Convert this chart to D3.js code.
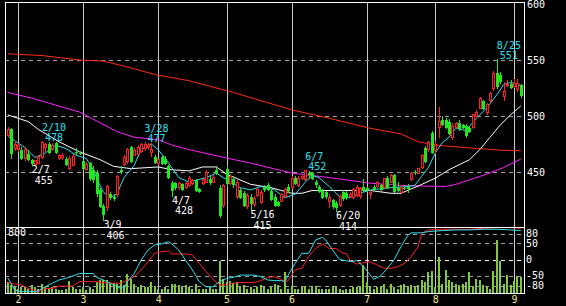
<!DOCTYPE html>
<html>
<head>
<meta charset="utf-8">
<script src="https://cdn.jsdelivr.net/npm/d3@7"></script>
<style>
  body { margin: 0; background: #000; }
  text { font-family: "DejaVu Sans Mono", monospace; font-size: 10px; }
</style>
</head>
<body>
<div id="chart"></div>
<script>
// trading days shown, month by month
const months = [
  [1, [27, 28, 31]],
  [2, [1, 2, 3, 4, 7, 8, 9, 10, 14, 15, 16, 17, 18, 21, 22, 23, 24, 25, 28]],
  [3, [1, 2, 3, 4, 7, 8, 9, 10, 11, 14, 15, 16, 17, 18, 22, 23, 24, 25, 28, 29, 30, 31]],
  [4, [1, 4, 5, 6, 7, 8, 11, 12, 13, 14, 15, 18, 19, 20, 21, 22, 25, 26, 27, 28]],
  [5, [2, 6, 9, 10, 11, 12, 13, 16, 17, 18, 19, 20, 23, 24, 25, 26, 27, 30, 31]],
  [6, [1, 2, 3, 6, 7, 8, 9, 10, 13, 14, 15, 16, 17, 20, 21, 22, 23, 24, 27, 28, 29, 30]],
  [7, [1, 4, 5, 6, 7, 8, 11, 12, 13, 14, 15, 19, 20, 21, 22, 25, 26, 27, 28, 29]],
  [8, [1, 2, 3, 4, 5, 8, 9, 10, 11, 12, 15, 16, 17, 18, 19, 22, 23, 24, 25, 26, 29, 30, 31]],
  [9, [1, 2, 5]]
];
const dates = months.flatMap(([m, days]) => days.map(d => `${m}/${d}`));

// open, high, low, close
const ohlc = [
  [483,490,481,488],[488,489,462,466],[471,478,469,475],[470,476,468,474],[470,472,461,462],
  [462,472,460,470],[466,470,460,461],[461,462,455,457],[457,461,456,460],[458,465,457,464],
  [463,478,462,476],[472,476,468,475],[475,477,466,467],[470,476,469,474],[476,477,466,467],
  [462,466,461,465],[463,467,461,465],[462,463,455,456],[453,464,452,462],[456,466,455,464],
  [468,471,465,467],[467,469,465,466],[460,461,452,453],[452,459,451,457],[458,459,442,444],
  [452,455,440,443],[449,452,428,430],[434,436,418,419],[420,421,406,412],[418,438,415,437],
  [430,432,425,427],[428,430,424,426],[430,447,428,446],[452,455,448,450],[457,465,455,463],
  [459,471,457,470],[472,473,458,459],[465,471,464,469],[466,474,465,472],[468,476,467,475],
  [471,477,469,475],[472,476,470,474],[467,476,463,470],[463,465,457,458],[458,462,456,461],
  [463,465,456,457],[462,464,456,457],[455,456,444,445],[440,442,428,433],[440,441,434,436],
  [436,441,434,440],[439,440,433,434],[436,441,435,440],[438,446,437,444],[440,444,438,442],
  [443,444,432,433],[435,436,431,432],[440,444,438,443],[441,452,440,450],[444,446,438,440],
  [441,447,440,445],[452,455,447,448],[436,438,409,411],[420,439,418,438],[453,455,437,439],
  [440,448,438,446],[444,446,436,438],[428,443,426,441],[434,436,426,427],[431,433,419,420],
  [419,431,417,429],[428,430,415,421],[421,429,419,426],[429,436,428,434],[423,434,421,432],
  [436,438,432,434],[438,440,433,434],[433,435,424,425],[428,430,419,420],[423,424,419,420],
  [424,431,423,430],[428,436,427,434],[437,439,431,433],[436,446,435,444],[445,446,438,439],
  [438,446,437,444],[444,448,443,446],[443,452,442,451],[449,451,444,447],[449,450,443,444],
  [441,443,436,438],[437,438,431,432],[433,435,426,427],[432,433,426,428],[424,430,418,427],
  [425,426,417,419],[422,424,414,418],[420,430,419,428],[432,434,424,426],[431,433,425,427],
  [428,432,427,430],[427,436,426,434],[429,438,428,436],[428,437,426,435],[437,444,432,433],
  [436,437,432,434],[430,434,426,432],[437,438,433,434],[437,442,436,441],[438,439,433,434],
  [436,445,435,444],[445,446,435,436],[441,448,440,447],[447,448,431,432],[436,441,432,433],
  [432,438,431,436],[436,438,434,435],[437,439,431,435],[443,450,442,449],[450,452,447,449],
  [449,454,448,453],[454,466,453,465],[471,473,458,459],[470,478,468,476],[485,487,466,467],
  [469,478,466,475],[490,508,480,495],[496,500,491,492],[496,498,488,489],[495,497,483,484],
  [481,494,479,491],[490,495,488,493],[494,496,487,488],[492,493,488,489],[491,493,480,482],
  [489,491,485,486],[490,502,488,501],[500,505,499,503],[507,517,506,516],[513,514,505,506],
  [503,512,501,510],[514,521,512,520],[525,540,522,538],[538,551,524,526],[537,539,529,530],
  [517,530,513,522],[527,532,526,528],[529,532,524,525],[526,533,525,529],[524,533,521,529],
  [528,529,516,518]
];

const volume = [
  133,93,73,53,73,73,53,93,73,53, 113,73,53,73,53,32,32,53,145,73,
  53,53,73,32,73,53,133,162,154,154, 121,121,113,162,101,226,174,113,73,93,
  73,73,133,81,53,53,73,53,113,113, 93,73,93,73,53,113,53,53,53,73,
  53,53,388,174,133,145,121,133,81,93, 53,73,53,73,93,73,53,73,113,93,
  53,255,53,85,53,53,73,81,53,81, 81,53,53,53,53,81,73,53,40,53,
  53,73,73,81,343,133,81,53,73,81, 113,53,105,73,53,93,113,73,101,73,
  93,162,133,255,263,73,436,113,283,162, 133,105,93,105,133,255,81,174,162,93,
  73,53,263,638,388,113,214,93,141,202, 194
];

// moving averages: [day index, price]
const maShort = [[0,482],[2,478],[5,472],[8,463],[11,467],[14,474],[17,471],[20,465],[23,462],[25,452],
  [27,438],[28,432],[30,427],[32,431],[34,445],[37,456],[39,470],[42,475],[44,470],[47,458],
  [50,445],[53,441],[58,445],[61,449],[63,445],[68,436],[71,434],[74,437],[78,434],[81,427],
  [84,430],[87,441],[89,447],[91,445],[94,437],[97,428],[100,427],[103,431],[106,434],[112,436],
  [117,437],[119,438],[121,446],[123,454],[125,467],[127,476],[129,481],[131,489],[134,487],[137,498],
  [140,507],[143,519],[145,528],[147,530],[149,528.5],[150,527]];
const ma25 = [[0,501],[6,495],[9,488],[15,477],[21,468],[27,461],[31,455],[36,453],[44,454.5],[48,452],
  [53,451],[57,454.5],[61,454.5],[64,448],[71,439],[77,436],[83,431],[86,431],[89,433.5],[106,433.5],
  [112,431],[115,431],[120,437.5],[125,444.5],[129,452],[135,461],[138,470],[141,481],[144,492],[147,501],[150,509]];
const ma75 = [[0,521],[7,516],[21,503.5],[27,494],[32,486],[37,481],[44,479],[48,474],[53,470],[64,462.5],
  [71,458],[83,449],[94,445],[106,440],[115,438],[121,437.5],[128,437],[131,439],[135,443],[140,448],[145,454],[150,461.5]];
const ma200 = [[0,555.5],[10,554],[21,550],[28,549],[36,543],[43,537],[53,531.5],[66,521],[83,505.5],[94,498],
  [106,489],[115,484],[120,477],[125,474],[135,471.5],[144,469.5],[150,469]];

// RCI lines of the lower panel: [day index, value]
const rciShort = [[0,-57],[1,-73],[2,-94],[4,-99],[8,-99],[9,-96],[11,-84],[13,-73],[15,-63],[17,-58],
  [19,-51],[21,-43],[25,-43],[26,-55],[28,-63],[30,-73],[32,-84],[33,-89],[34,-86],[35,-68],
  [37,-43],[39,-2],[41,29],[43,45],[45,48],[47,55],[48,48],[50,29],[52,-2],[54,-32],
  [56,-68],[58,-84],[60,-84],[62,-68],[64,-58],[66,-55],[68,-48],[72,-48],[74,-53],[76,-63],
  [78,-65],[80,-65],[81,-68],[82,-48],[84,-12],[86,19],[88,19],[90,60],[92,68],[93,60],
  [95,29],[97,0],[99,-4],[101,-7],[102,-2],[104,-22],[107,-61],[109,-51],[111,-27],[113,0],
  [115,40],[117,75],[118,82],[121,82],[123,86],[127,89],[131,91],[135,91],[139,93],[143,93],
  [147,91],[150,89]];
const rciLong = [[0,-71],[2,-75],[4,-78],[6,-89],[8,-96],[9,-99],[11,-89],[13,-89],[15,-82],[19,-82],
  [21,-68],[25,-68],[27,-70],[31,-73],[33,-73],[35,-63],[37,-53],[39,-32],[41,-7],[43,19],
  [45,24],[47,26],[48,17],[52,17],[54,14],[56,-12],[58,-37],[60,-61],[62,-78],[64,-78],
  [66,-73],[68,-71],[72,-71],[74,-65],[76,-55],[78,-53],[80,-61],[81,-68],[82,-65],[84,-32],
  [86,-27],[88,9],[90,34],[92,48],[94,34],[96,34],[98,19],[99,19],[100,-2],[102,-14],
  [104,-10],[106,-7],[108,-17],[110,-27],[112,-27],[114,-22],[116,-12],[118,9],[120,40],[121,80],
  [123,91],[127,93],[135,93],[139,96],[143,98],[147,98],[150,96]];

// highs and lows that carry a label
const marks = [
  { date: "2/10", value: 478, kind: "high" },
  { date: "2/7",  value: 455, kind: "low" },
  { date: "3/9",  value: 406, kind: "low" },
  { date: "3/28", value: 477, kind: "high" },
  { date: "4/7",  value: 428, kind: "low" },
  { date: "5/16", value: 415, kind: "low" },
  { date: "6/7",  value: 452, kind: "high" },
  { date: "6/20", value: 414, kind: "low" },
  { date: "8/25", value: 551, kind: "high" }
];

const priceTicks = [450, 500, 550, 600];
const rciTicks = [80, 50, 0, -50, -80];

const W = 566, H = 306;
const L = 5, R = 524, T = 2, MID = 227, B = 293;
const upColor = "#ff2020", downColor = "#20e820";

const svg = d3.select("#chart").append("svg")
  .attr("width", W).attr("height", H)
  .style("background", "#000");

const x = d3.scaleLinear().domain([0, dates.length - 1]).range([7.7, 520.8]);
const y = d3.scaleLinear().domain([400, 600]).range([228, 4]);
const yr = d3.scaleLinear().domain([-100, 100]).range([292, 227]);
const yv = d3.scaleLinear().domain([0, 800]).range([B, MID]);
const px = i => Math.round(x(i)) + 0.5;

svg.append("clipPath").attr("id", "clipMain")
  .append("rect").attr("x", L).attr("y", T).attr("width", R - L).attr("height", MID - T);
svg.append("clipPath").attr("id", "clipLow")
  .append("rect").attr("x", L).attr("y", MID).attr("width", R - L).attr("height", B - MID);

// month start lines
const monthStarts = [];
let k = 0;
months.forEach(([m, days]) => { if (k > 0) monthStarts.push({ i: k, m }); k += days.length; });

svg.append("g").selectAll("line").data(monthStarts).join("line")
  .attr("x1", d => px(d.i)).attr("x2", d => px(d.i))
  .attr("y1", T).attr("y2", B)
  .attr("stroke", "#c8c8c8").attr("shape-rendering", "crispEdges");

// dashed grid
svg.append("g").selectAll("line").data(priceTicks.filter(v => v < 600)).join("line")
  .attr("x1", L).attr("x2", R)
  .attr("y1", d => Math.round(y(d)) + 0.5).attr("y2", d => Math.round(y(d)) + 0.5)
  .attr("stroke", "#a0a0a0").attr("stroke-dasharray", "4,4").attr("shape-rendering", "crispEdges");

svg.append("g").selectAll("line").data(rciTicks).join("line")
  .attr("x1", L).attr("x2", R)
  .attr("y1", d => Math.round(yr(d)) + 0.5).attr("y2", d => Math.round(yr(d)) + 0.5)
  .attr("stroke", d => d === 0 ? "#ffffff" : "#a0a0a0")
  .attr("stroke-dasharray", "4,4").attr("shape-rendering", "crispEdges");

// volume
svg.append("g").attr("clip-path", "url(#clipLow)")
  .selectAll("rect").data(volume).join("rect")
  .attr("x", (d, i) => Math.round(x(i)) - 1)
  .attr("width", 2)
  .attr("y", d => yv(d))
  .attr("height", d => B - yv(d))
  .attr("fill", "#84c83c").attr("shape-rendering", "crispEdges");

// RCI lines
const rline = d3.line().x(d => x(d[0])).y(d => yr(d[1]));
const low = svg.append("g").attr("clip-path", "url(#clipLow)");
low.append("path").datum(rciLong).attr("d", rline)
  .attr("fill", "none").attr("stroke", "#ff2020");
low.append("path").datum(rciShort).attr("d", rline)
  .attr("fill", "none").attr("stroke", "#30e0f0");

// moving averages
const main = svg.append("g").attr("clip-path", "url(#clipMain)");
const mline = d3.line().x(d => x(d[0])).y(d => y(d[1]));
[[ma200, "#ff2a10"], [ma75, "#ff20ff"], [ma25, "#ffffff"], [maShort, "#30e0f0"]].forEach(([s, c]) => {
  main.append("path").datum(s).attr("d", mline)
    .attr("fill", "none").attr("stroke", c).attr("stroke-width", 1);
});

// candles
const bars = ohlc.map((d, i) => ({ i, o: d[0], h: d[1], l: d[2], c: d[3] }));
const cg = main.append("g").attr("shape-rendering", "crispEdges")
  .selectAll("g").data(bars).join("g");
cg.append("line")
  .attr("x1", d => px(d.i)).attr("x2", d => px(d.i))
  .attr("y1", d => y(d.h)).attr("y2", d => y(d.l))
  .attr("stroke", d => d.c >= d.o ? upColor : downColor);
cg.append("rect")
  .attr("x", d => d.c >= d.o ? px(d.i) - 1 : px(d.i) - 1.5)
  .attr("width", d => d.c >= d.o ? 2 : 3)
  .attr("y", d => y(Math.max(d.o, d.c)))
  .attr("height", d => Math.max(1, Math.abs(y(d.o) - y(d.c))))
  .attr("fill", d => d.c >= d.o ? "#000" : downColor)
  .attr("stroke", d => d.c >= d.o ? upColor : "none");

// frame
const frame = svg.append("g").attr("stroke", "#fff").attr("fill", "none").attr("shape-rendering", "crispEdges");
frame.append("rect").attr("x", L + 0.5).attr("y", T + 0.5).attr("width", R - L).attr("height", B - T);
frame.append("line").attr("x1", L).attr("x2", R).attr("y1", MID + 0.5).attr("y2", MID + 0.5);

// axes
const styleAxis = g => {
  g.select(".domain").remove();
  g.selectAll("text").attr("fill", "#fff").attr("text-anchor", "start")
    .style("font-family", '"DejaVu Sans Mono", monospace').style("font-size", "10px");
};
svg.append("g").attr("transform", `translate(${R},0)`)
  .call(d3.axisRight(y).tickValues(priceTicks).tickSize(0).tickPadding(3))
  .call(styleAxis);
svg.append("g").attr("transform", `translate(${R},0)`)
  .call(d3.axisRight(yr).tickValues(rciTicks).tickSize(0).tickPadding(2).tickFormat(d => String(d)))
  .call(styleAxis);

const monthAxis = d3.axisBottom(x)
  .tickValues(monthStarts.map(d => d.i))
  .tickFormat(i => monthStarts.find(d => d.i === i).m)
  .tickSize(0).tickPadding(3);
svg.append("g").attr("transform", `translate(0,${B})`)
  .call(monthAxis)
  .call(g => {
    g.select(".domain").remove();
    g.selectAll("text").attr("fill", "#f0e68c")
      .style("font-family", '"DejaVu Sans Mono", monospace').style("font-size", "10px");
  });

svg.append("text").attr("x", 8).attr("y", 236).attr("fill", "#fff").text("800");

// high / low labels
const ann = svg.append("g").selectAll("g").data(marks).join("g")
  .attr("fill", d => d.kind === "high" ? "#30e0f0" : "#fff")
  .style("font-size", "9px");
ann.append("text")
  .attr("x", d => x(dates.indexOf(d.date)))
  .attr("y", d => d.kind === "high" ? y(d.value) - 10 : y(d.value) + 7)
  .text(d => d.date);
ann.append("text")
  .attr("x", d => x(dates.indexOf(d.date)) + 3)
  .attr("y", d => d.kind === "high" ? y(d.value) + 0.5 : y(d.value) + 17.5)
  .text(d => d.value);
</script>
</body>
</html>
